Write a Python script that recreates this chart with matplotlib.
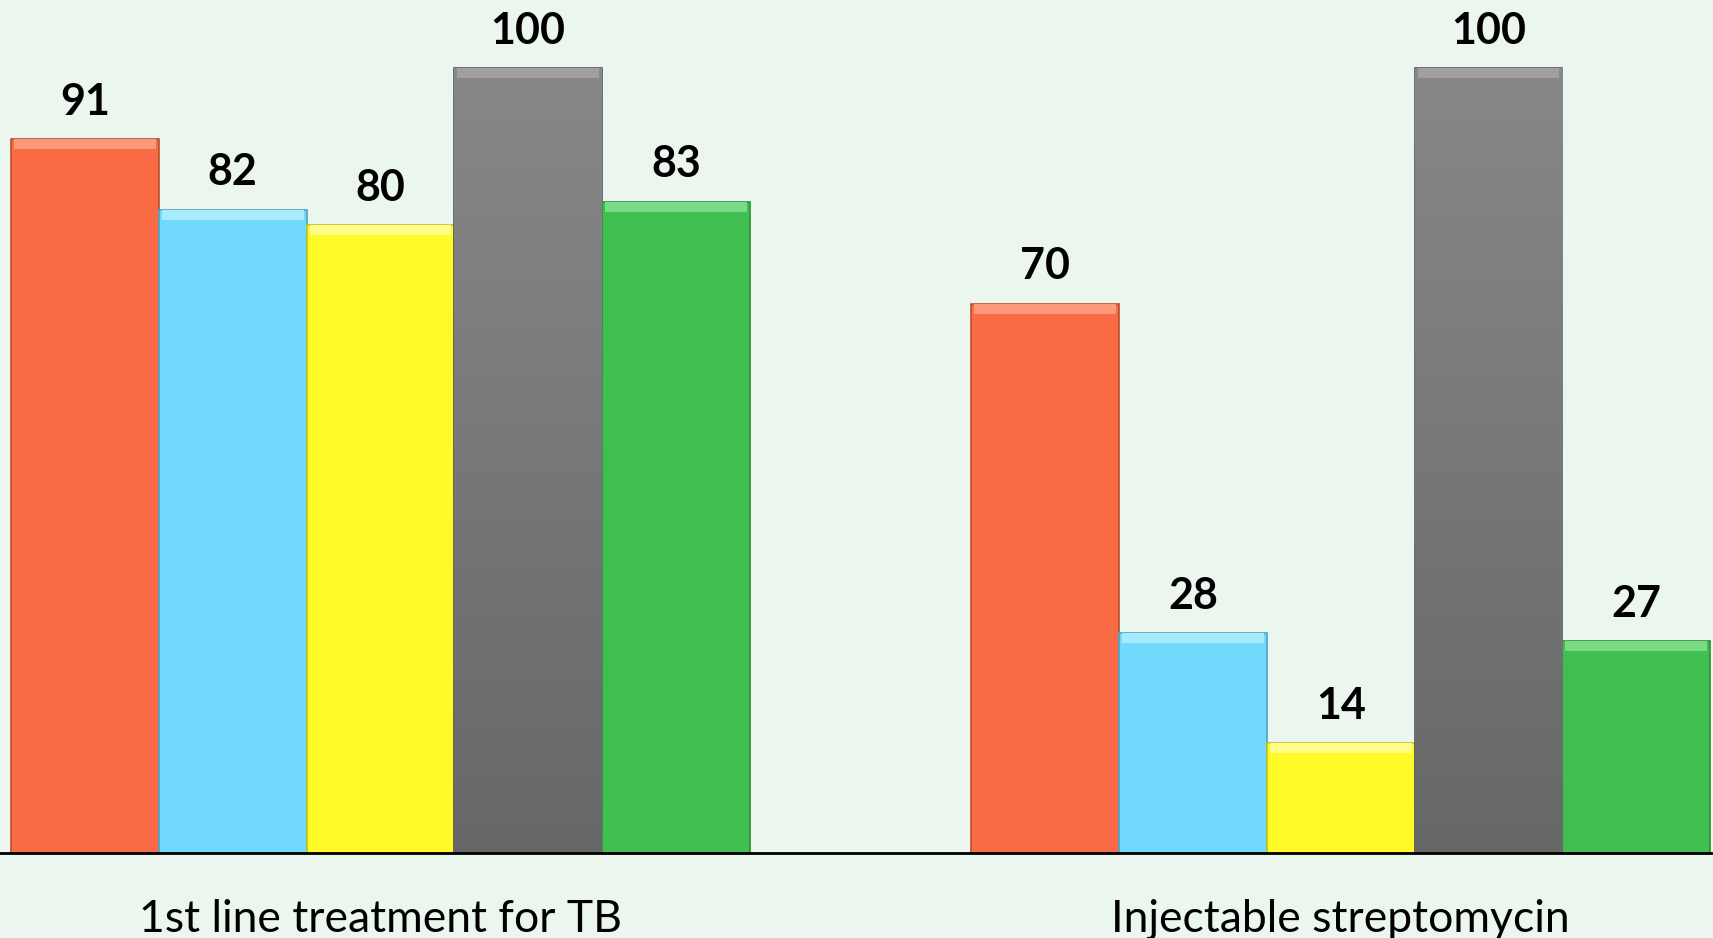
import numpy as np
import matplotlib.pyplot as plt
from matplotlib.colors import LinearSegmentedColormap

# data
categories = ["1st line treatment for TB", "Injectable streptomycin"]
series_values = [
    [91, 70],
    [82, 28],
    [80, 14],
    [100, 100],
    [83, 27],
]
bar_colors = ["#F96B45", "#71D9FC", "#FFFA28", "#7A7A7A", "#40BF50"]
edge_colors = ["#B9502F", "#4FA3C2", "#C9C21E", "#555555", "#2E8E3B"]
top_colors = ["#FB9A7A", "#A6EBFE", "#FFFD8A", "#A0A0A0", "#7ADB86"]

bg = "#EBF7EE"
fig = plt.figure(figsize=(17.13, 9.38), dpi=100, facecolor=bg)
ax = fig.add_axes([0, 85 / 938, 1, 853 / 938])
ax.set_facecolor(bg)

grey_cmap = LinearSegmentedColormap.from_list("g", ["#676767", "#888888"])
grad = np.linspace(0, 1, 256).reshape(-1, 1)

group_x = np.array([0.0, 6.5])
for i, vals in enumerate(series_values):
    x = group_x + i
    vals = np.array(vals, dtype=float)
    bars = ax.bar(x, vals, width=1.0, color=bar_colors[i], edgecolor=edge_colors[i],
                  linewidth=1.2, zorder=2)
    if i == 3:
        # grey bars fade darker to the bottom
        for b in bars:
            im = ax.imshow(grad, cmap=grey_cmap, origin="lower", aspect="auto",
                           extent=[b.get_x(), b.get_x() + b.get_width(), 0, b.get_height()],
                           zorder=2.5)
            im.set_clip_path(b)
    # light bevel band on top of each bar
    ax.bar(x, np.full(len(vals), 1.3), bottom=vals - 1.3, width=0.96,
           color=top_colors[i], linewidth=0, zorder=3)
    for xi, v in zip(x, vals):
        ax.text(xi, v + 2.2, "%d" % v, ha="center", va="bottom", fontsize=31,
                fontweight="bold", family="Lato", color="black", zorder=4)

ax.set_xlim(-0.575, 11.02)
ax.set_ylim(0, 108.7)
ax.set_xticks(group_x + 2)
ax.set_xticklabels(categories, fontsize=32, family="Lato")
ax.tick_params(axis="x", length=0, pad=33)
ax.set_yticks([])
for s in ["top", "left", "right"]:
    ax.spines[s].set_visible(False)
ax.spines["bottom"].set_linewidth(2)
ax.spines["bottom"].set_color("black")
ax.spines["bottom"].set_zorder(5)

fig.savefig("out.png", dpi=100, facecolor=bg)
